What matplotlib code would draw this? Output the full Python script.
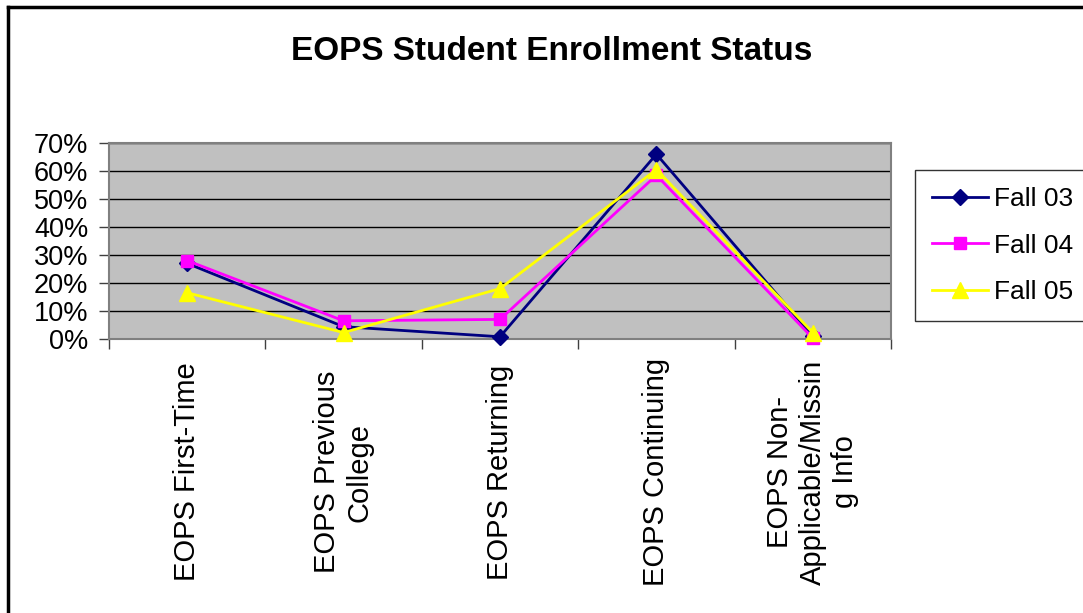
import matplotlib
matplotlib.use("Agg")
import matplotlib.pyplot as plt
from matplotlib.lines import Line2D
from matplotlib.ticker import FixedLocator, NullFormatter

plt.rcParams['font.family'] = ['Liberation Sans', 'DejaVu Sans']

categories = [
    "EOPS First-Time",
    "EOPS Previous\nCollege",
    "EOPS Returning",
    "EOPS Continuing",
    "EOPS Non-\nApplicable/Missin\ng Info",
]
series_names = ["Fall 03", "Fall 04", "Fall 05"]
fall_03 = [27.0, 4.4, 0.8, 66.0, 1.0]
fall_04 = [28.0, 6.5, 7.0, 58.5, 0.3]
fall_05 = [16.5, 2.3, 18.0, 60.5, 2.3]
y_ticks = [0, 10, 20, 30, 40, 50, 60, 70]
y_tick_labels = ["0%", "10%", "20%", "30%", "40%", "50%", "60%", "70%"]

W, H = 1083, 613
fig = plt.figure(figsize=(W / 100, H / 100), dpi=100)
fig.patch.set_facecolor("white")

# plot area in pixel terms
left, right, top, bottom = 109, 891, 143, 339
ax = fig.add_axes([left / W, 1 - bottom / H, (right - left) / W, (bottom - top) / H])
ax.set_facecolor("#C0C0C0")

x = list(range(len(categories)))
styles = [
    (fall_03, "#000080", "D", 8),
    (fall_04, "#FF00FF", "s", 9),
    (fall_05, "#FFFF00", "^", 11),
]
handles = []
for (vals, col, mk, ms), name in zip(styles, series_names):
    h, = ax.plot(x, vals, color=col, marker=mk, markersize=ms, linewidth=2,
                 markeredgecolor=col, markerfacecolor=col, label=name,
                 clip_on=False, zorder=3)
    handles.append(h)

ax.set_xlim(-0.5, len(categories) - 0.5)
ax.set_ylim(0, 70)
ax.set_yticks(y_ticks)
ax.set_yticklabels(y_tick_labels, fontsize=19.5)
ax.yaxis.grid(True, color="black", linewidth=1)
ax.set_axisbelow(True)

# category boundaries carry the x ticks
ax.xaxis.set_major_locator(FixedLocator([i - 0.5 for i in range(len(categories) + 1)]))
ax.xaxis.set_major_formatter(NullFormatter())
ax.tick_params(axis="x", direction="out", length=7, width=1, color="#404040")
ax.tick_params(axis="y", direction="out", length=7, width=1, color="#404040", pad=8)

for s in ax.spines.values():
    s.set_color("#808080")
    s.set_linewidth(1.5)

# rotated category labels
for i, lab in enumerate(categories):
    xd = ax.transData.transform((i, 0))[0]
    fig.text(xd / W, 1 - 472 / H, lab, rotation=90, ha="center", va="center",
             multialignment="center", fontsize=21, linespacing=1.2)

fig.text(552 / W, 1 - 52 / H, "EOPS Student Enrollment Status",
         ha="center", va="center", fontsize=24, fontweight="bold")

leg = fig.legend(handles=handles, labels=series_names, loc="upper left",
                 bbox_to_anchor=(915 / W, 1 - 170 / H), fontsize=19,
                 frameon=True, fancybox=False, edgecolor="black",
                 handlelength=2.1, handletextpad=0.25, labelspacing=0.85,
                 borderpad=0.65, borderaxespad=0)
leg.get_frame().set_linewidth(1)

# outer chart frame (top and left edges visible)
fig.add_artist(Line2D([8 / W, 1], [1 - 7 / H, 1 - 7 / H], color="black", linewidth=2.5,
                      transform=fig.transFigure))
fig.add_artist(Line2D([8 / W, 8 / W], [1 - 7 / H, 0], color="black", linewidth=2.5,
                      transform=fig.transFigure))

fig.savefig("out.png", dpi=100)
